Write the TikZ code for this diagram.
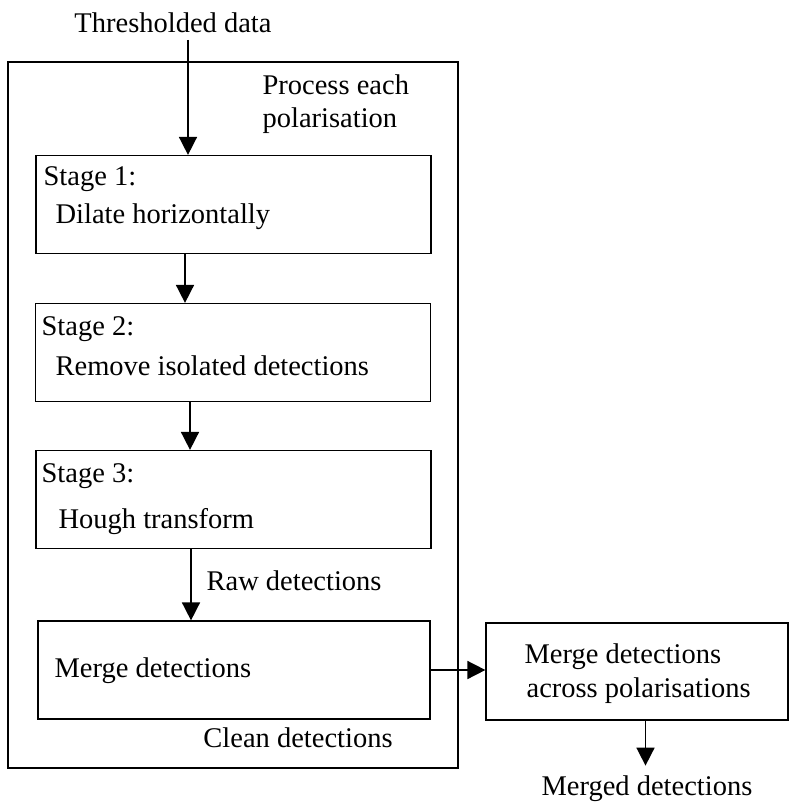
\documentclass[tikz,border=0pt]{standalone}
\usepackage{fontspec}
\setmainfont{Liberation Serif}
\usetikzlibrary{arrows.meta}
\tikzset{
  every picture/.style={line width=0.6pt, x=0.5pt, y=-0.5pt},
  box/.style={draw, rectangle, inner sep=0pt},
  arrow/.style={-{Triangle[length=9pt, width=9pt]}, line width=0.8pt},
  lbl/.style={inner sep=0pt, anchor=base west},
}

\begin{document}
\begin{tikzpicture}[
    every node/.append style={font=\fontsize{14.25}{16.5}\selectfont},
    outer/.style={box, line width=1.25pt, minimum width=225pt, minimum height=353pt},
    stagebox/.style={box, minimum width=197.5pt, minimum height=49pt},
  ]
  \useasboundingbox (0,0) rectangle (790,802);

  % process each polarisation
  \node[outer] (pol) at (233,415) {};
  \node[lbl] (polt1) at (262,95)  {Process each};
  \node[lbl] (polt2) at (262,128) {polarisation};

  \node[lbl, anchor=base] (thr) at (173,33) {Thresholded data};

  % stages
  \node[stagebox] (s1) at (233.5,204.5) {};
  \node[stagebox] (s2) at (233,352.5) {};
  \node[stagebox] (s3) at (233.5,499.5) {};
  \node[lbl] (s1a) at (43,186) {Stage 1:};
  \node[lbl] (s1b) at (55,223) {Dilate horizontally};
  \node[lbl] (s2a) at (41,335) {Stage 2:};
  \node[lbl] (s2b) at (55,375) {Remove isolated detections};
  \node[lbl] (s3a) at (41,482) {Stage 3:};
  \node[lbl] (s3b) at (58,528) {Hough transform};
  \node[lbl] (raw) at (206,590) {Raw detections};

  % merging
  \node[box, minimum width=196pt, minimum height=49pt] (mrg) at (234,670) {};
  \node[lbl] (mrgt) at (54,677) {Merge detections};
  \node[lbl, anchor=base] (clean) at (298,747) {Clean detections};
  \node[box, minimum width=151pt, minimum height=48.5pt] (cross) at (637,671.5) {};
  \node[lbl] (cross1) at (524,663) {Merge detections};
  \node[lbl] (cross2) at (526,697) {across polarisations};
  \node[lbl, anchor=base] (out) at (647,795) {Merged detections};

  \draw[arrow] ([xshift=7.5pt, yshift=-3pt]thr.south) -- ([xshift=7.5pt]thr.south |- s1.north);
  \draw[arrow] ([xshift=-24.25pt]s1.south) -- ([xshift=-24.25pt]s1.south |- s2.north);
  \draw[arrow] ([xshift=-21.5pt]s2.south) -- ([xshift=-21.5pt]s2.south |- s3.north);
  \draw[arrow] ([xshift=-21.25pt]s3.south) -- ([xshift=-21.25pt]s3.south |- mrg.north);
  \draw[arrow] (mrg.east) -- (mrg.east -| cross.west);
  \draw[arrow] ([xshift=4.25pt]cross.south) -- ([xshift=4.25pt, yshift=4.5pt]cross.south |- out.north);
\end{tikzpicture}
\end{document}
